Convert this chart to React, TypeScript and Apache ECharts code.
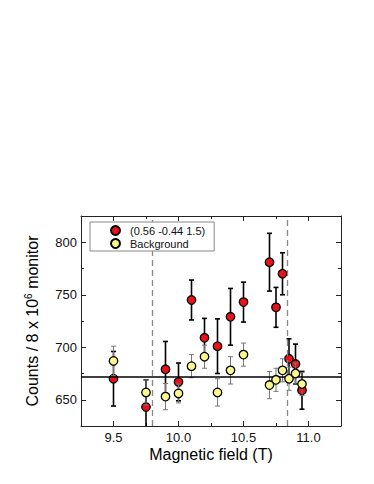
import React, { useEffect, useRef } from "react";
import * as echarts from "echarts";

const fieldRed = [9.5, 9.75, 9.9, 10.0, 10.1, 10.2, 10.3, 10.4, 10.5, 10.7, 10.75, 10.8, 10.85, 10.9, 10.95];
const countsRed = [670, 643, 679, 667, 745, 709, 701, 729, 743, 781, 738, 770, 689, 684, 659];
const errRed = [26, 26, 26.5, 18, 19, 18.5, 26, 27, 19, 27.5, 19, 20, 19, 19, 18];

const fieldBg = [9.5, 9.75, 9.9, 10.0, 10.1, 10.2, 10.3, 10.4, 10.5, 10.7, 10.75, 10.8, 10.85, 10.9, 10.95];
const countsBg = [687, 657, 653, 656, 682, 691, 657, 678, 693, 664, 669, 678, 670, 675, 665];
const errBg = [14, 12, 12.5, 9, 11, 11, 13, 13, 11, 13, 11, 11, 11, 10, 11];

const xMajor = [9.5, 10.0, 10.5, 11.0];
const xMinor = [9.75, 10.25, 10.75];
const yMajor = [650, 700, 750, 800];
const yMinor = [675, 725, 775];

const dashedX = [9.8, 10.84];
const baseline = 672;

const nameRed = "(0.56 -0.44 1.5)";
const nameBg = "Background";

const FONT = "'Liberation Sans', Arial, Helvetica, sans-serif";

export default function App() {
  const ref = useRef<HTMLDivElement>(null);
  useEffect(() => {
    if (!ref.current) return;
    const chart = echarts.init(ref.current, null, { renderer: "svg" });

    const axisColor = "#222";
    const xAx = (pos: string, values: number[], len: number, main: boolean) => ({
      type: "value",
      position: pos,
      min: 9.25,
      max: 11.25,
      axisLine: { show: main, onZero: false, lineStyle: { color: axisColor, width: 1 } },
      axisTick: { show: true, inside: true, length: len, customValues: values, lineStyle: { color: axisColor, width: 1 } },
      axisLabel: main && pos === "bottom"
        ? { show: true, customValues: values, formatter: (v: number) => v.toFixed(1), fontSize: 13, color: "#111", fontFamily: FONT, margin: 5 }
        : { show: false },
      splitLine: { show: false },
      ...(main && pos === "bottom"
        ? { name: "Magnetic field (T)", nameLocation: "middle", nameGap: 20, nameTextStyle: { fontSize: 16, color: "#000", fontFamily: FONT } }
        : {}),
    });
    const yAx = (pos: string, values: number[], len: number, main: boolean) => ({
      type: "value",
      position: pos,
      min: 625,
      max: 825,
      axisLine: { show: main, onZero: false, lineStyle: { color: axisColor, width: 1 } },
      axisTick: { show: true, inside: true, length: len, customValues: values, lineStyle: { color: axisColor, width: 1 } },
      axisLabel: main && pos === "left"
        ? { show: true, customValues: values, fontSize: 13, color: "#111", fontFamily: FONT, margin: 4 }
        : { show: false },
      splitLine: { show: false },
      ...(main && pos === "left"
        ? {
            name: "Counts / 8 x 10{sup|6} monitor",
            nameLocation: "middle",
            nameGap: 40,
            nameTextStyle: {
              fontSize: 16,
              color: "#000",
              fontFamily: FONT,
              rich: { sup: { fontSize: 10, fontFamily: FONT, color: "#000", padding: [0, 0, 8, 0] } },
            },
          }
        : {}),
    });

    const errSeries = (name: string, xs: number[], ys: number[], es: number[], color: string, width: number, cap: number) => ({
      type: "custom",
      name,
      xAxisIndex: 0,
      yAxisIndex: 0,
      clip: true,
      silent: true,
      data: xs.map((x, i) => [x, ys[i], es[i]]),
      encode: { x: 0, y: 1 },
      renderItem: (params: any, api: any) => {
        const x = api.value(0);
        const y = api.value(1);
        const e = api.value(2);
        const top = api.coord([x, y + e]);
        const bot = api.coord([x, y - e]);
        const style = { stroke: color, lineWidth: width };
        return {
          type: "group",
          children: [
            { type: "line", shape: { x1: top[0], y1: top[1], x2: bot[0], y2: bot[1] }, style },
            { type: "line", shape: { x1: top[0] - cap, y1: top[1], x2: top[0] + cap, y2: top[1] }, style },
            { type: "line", shape: { x1: bot[0] - cap, y1: bot[1], x2: bot[0] + cap, y2: bot[1] }, style },
          ],
        };
      },
    });

    const option: any = {
      animation: false,
      textStyle: { fontFamily: FONT },
      grid: { left: 81, right: 33, top: 216, bottom: 58, containLabel: false },
      legend: {
        orient: "vertical",
        left: 90,
        top: 222,
        itemWidth: 19,
        itemHeight: 9,
        itemGap: 2,
        borderColor: "#888",
        borderWidth: 1,
        backgroundColor: "#fff",
        z: 10,
        padding: [3, 9, 2, 20],
        textStyle: { fontSize: 11, color: "#111", fontFamily: FONT, lineHeight: 11 },
        data: [
          { name: nameRed, icon: "circle" },
          { name: nameBg, icon: "circle" },
        ],
      },
      xAxis: [
        xAx("bottom", xMajor, 5, true),
        xAx("bottom", xMinor, 3, false),
        xAx("top", xMajor, 5, true),
        xAx("top", xMinor, 3, false),
      ],
      yAxis: [
        yAx("left", yMajor, 5, true),
        yAx("left", yMinor, 3, false),
        yAx("right", yMajor, 5, true),
        yAx("right", yMinor, 3, false),
      ],
      series: [
        {
          type: "scatter",
          name: nameRed,
          xAxisIndex: 0,
          yAxisIndex: 0,
          symbol: "circle",
          symbolSize: 8.5,
          itemStyle: { color: "#ec1118", borderColor: "#000", borderWidth: 1.3, opacity: 1 },
          data: fieldRed.map((x, i) => [x, countsRed[i]]),
          z: 3,
        },
        {
          type: "scatter",
          name: nameBg,
          xAxisIndex: 0,
          yAxisIndex: 0,
          symbol: "circle",
          symbolSize: 8.5,
          itemStyle: { color: "#fbf98c", borderColor: "#000", borderWidth: 1.3, opacity: 1 },
          data: fieldBg.map((x, i) => [x, countsBg[i]]),
          z: 5,
        },
        { ...errSeries("errRed", fieldRed, countsRed, errRed, "#000", 1.6, 2.5), z: 2 },
        { ...errSeries("errBg", fieldBg, countsBg, errBg, "#777", 1, 2.5), z: 4 },
        {
          type: "scatter",
          name: "refs",
          xAxisIndex: 0,
          yAxisIndex: 0,
          data: [],
          z: 1,
          markLine: {
            silent: true,
            symbol: "none",
            label: { show: false },
            animation: false,
            data: [
              ...dashedX.map((v) => ({ xAxis: v, lineStyle: { color: "#888", type: [6, 4], width: 1.3 } })),
              { yAxis: baseline, lineStyle: { color: "#000", type: "solid", width: 1.5 } },
            ],
          },
        },
      ],
    };
    chart.setOption(option);
    return () => chart.dispose();
  }, []);
  return <div ref={ref} style={{ width: 374, height: 484, position: "absolute", left: 0, top: 0 }} />;
}
